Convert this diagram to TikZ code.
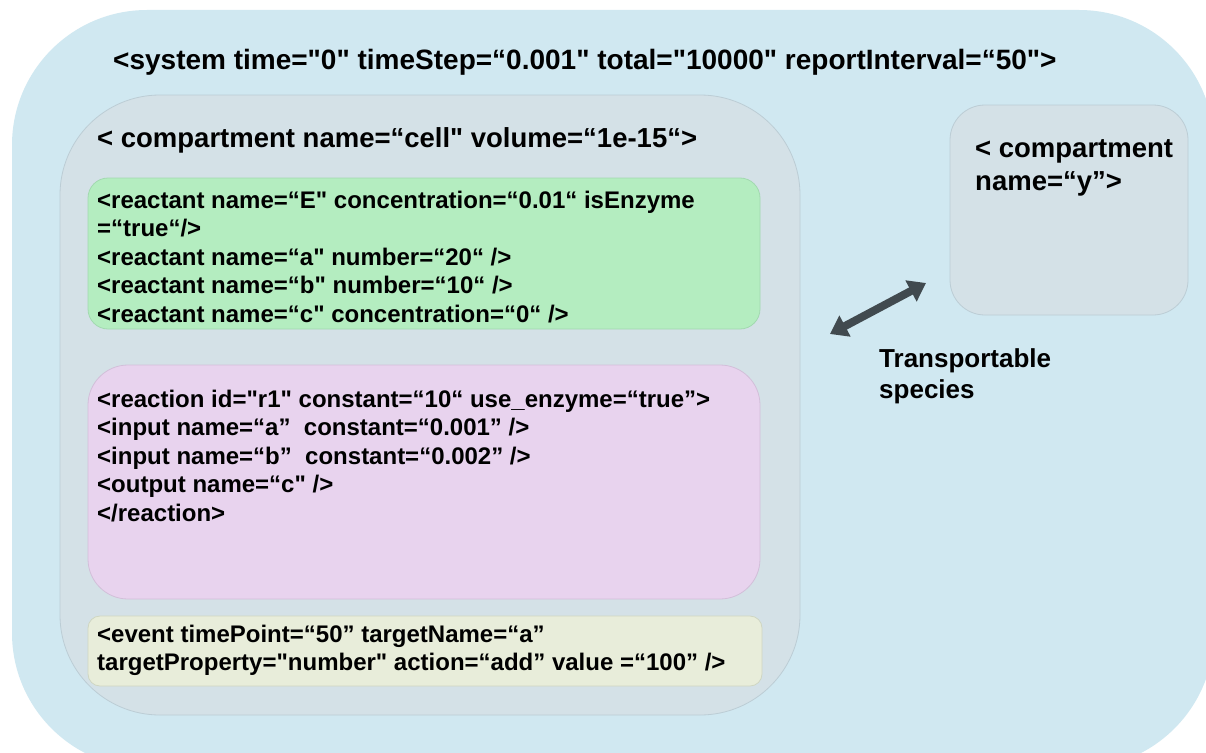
\documentclass[tikz,border=0pt]{standalone}
\usepackage{fontspec}
\setmainfont{Liberation Sans}[Ligatures=TeXOff]
\usetikzlibrary{arrows.meta}
\definecolor{outerblue}{HTML}{D0E8F1}
\definecolor{cellgray}{HTML}{D4E1E7}
\definecolor{cellline}{HTML}{BCCDD5}
\definecolor{greenfill}{HTML}{B4EDC0}
\definecolor{greenline}{HTML}{A2D9B0}
\definecolor{pinkfill}{HTML}{E8D3EE}
\definecolor{pinkline}{HTML}{D2BFD9}
\definecolor{eventfill}{HTML}{E8EDDA}
\definecolor{eventline}{HTML}{CFD6C2}
\definecolor{arrowgray}{HTML}{414A4F}
\tikzset{
  box/.style={draw, line width=0.8pt, inner sep=0pt, outer sep=0pt, anchor=north west},
  codeline/.style={font=\fontsize{24}{28}\selectfont\bfseries, anchor=base west, inner sep=0pt, text=black},
  bigline/.style={font=\fontsize{27.5}{32}\selectfont\bfseries, anchor=base west, inner sep=0pt, text=black},
  titleline/.style={font=\fontsize{28}{33}\selectfont\bfseries, anchor=base west, inner sep=0pt, text=black},
  labelline/.style={font=\fontsize{26}{30}\selectfont\bfseries, anchor=base west, inner sep=0pt, text=black},
  twoway/.style={draw=arrowgray, line width=8pt, {Triangle[length=17pt,width=23pt]}-{Triangle[length=17pt,width=23pt]}}
}
\begin{document}
\begin{tikzpicture}[x=1pt,y=-1pt]
\useasboundingbox (0,0) rectangle (1206,752);
\fill[white] (0,0) rectangle (1206,752);
% outer system box
\node[box, draw=none, fill=outerblue, rounded corners=135pt, minimum width=1202pt, minimum height=758pt] (system) at (12,10) {};
\node[titleline] (systitle) at (113,70) {<system time="0" timeStep=“0.001" total="10000" reportInterval=“50">};
% cell compartment
\node[box, draw=cellline, fill=cellgray, rounded corners=100pt, minimum width=740pt, minimum height=620pt] (cell) at (60,95) {};
\node[bigline] (celltitle) at (97,147) {< compartment name=“cell" volume=“1e-15“>};
% reactants
\node[box, draw=greenline, fill=greenfill, rounded corners=20pt, minimum width=672pt, minimum height=151pt] (reactants) at (88,178) {};
\node[codeline] (r1) at (97,208) {<reactant name=“E" concentration=“0.01“ isEnzyme};
\node[codeline] (r2) at (97,236.5) {=“true“/>};
\node[codeline] (r3) at (97,265) {<reactant name=“a" number=“20“ />};
\node[codeline] (r4) at (97,293.5) {<reactant name=“b" number=“10“ />};
\node[codeline] (r5) at (97,322) {<reactant name=“c" concentration=“0“ />};
% reaction
\node[box, draw=pinkline, fill=pinkfill, rounded corners=40pt, minimum width=672pt, minimum height=234pt] (reaction) at (88,365) {};
\node[codeline] (x1) at (97,407) {<reaction id="r1" constant=“10“ use\_enzyme=“true”>};
\node[codeline] (x2) at (97,435.5) {<input name=“a”~~constant=“0.001” />};
\node[codeline] (x3) at (97,464) {<input name=“b”~~constant=“0.002” />};
\node[codeline] (x4) at (97,492.5) {<output name=“c" />};
\node[codeline] (x5) at (97,521) {</reaction>};
% event
\node[box, draw=eventline, fill=eventfill, rounded corners=12pt, minimum width=674pt, minimum height=70pt] (event) at (88,616) {};
\node[codeline] (e1) at (97,642) {<event timePoint=“50” targetName=“a”};
\node[codeline] (e2) at (97,670.5) {targetProperty="number" action=“add” value =“100” />};
% right compartment
\node[box, draw=cellline, fill=cellgray, rounded corners=35pt, minimum width=238pt, minimum height=210pt] (ycomp) at (950,105) {};
\node[bigline] (y1) at (975,157) {< compartment};
\node[bigline] (y2) at (975,190) {name=“y”>};
% transport arrow
\coordinate (tA) at (830,334);
\coordinate (tB) at (926,283);
\draw[twoway] (tA) -- (tB);
\node[labelline] (t1) at (879,367) {Transportable};
\node[labelline] (t2) at (879,398) {species};
\end{tikzpicture}
\end{document}
